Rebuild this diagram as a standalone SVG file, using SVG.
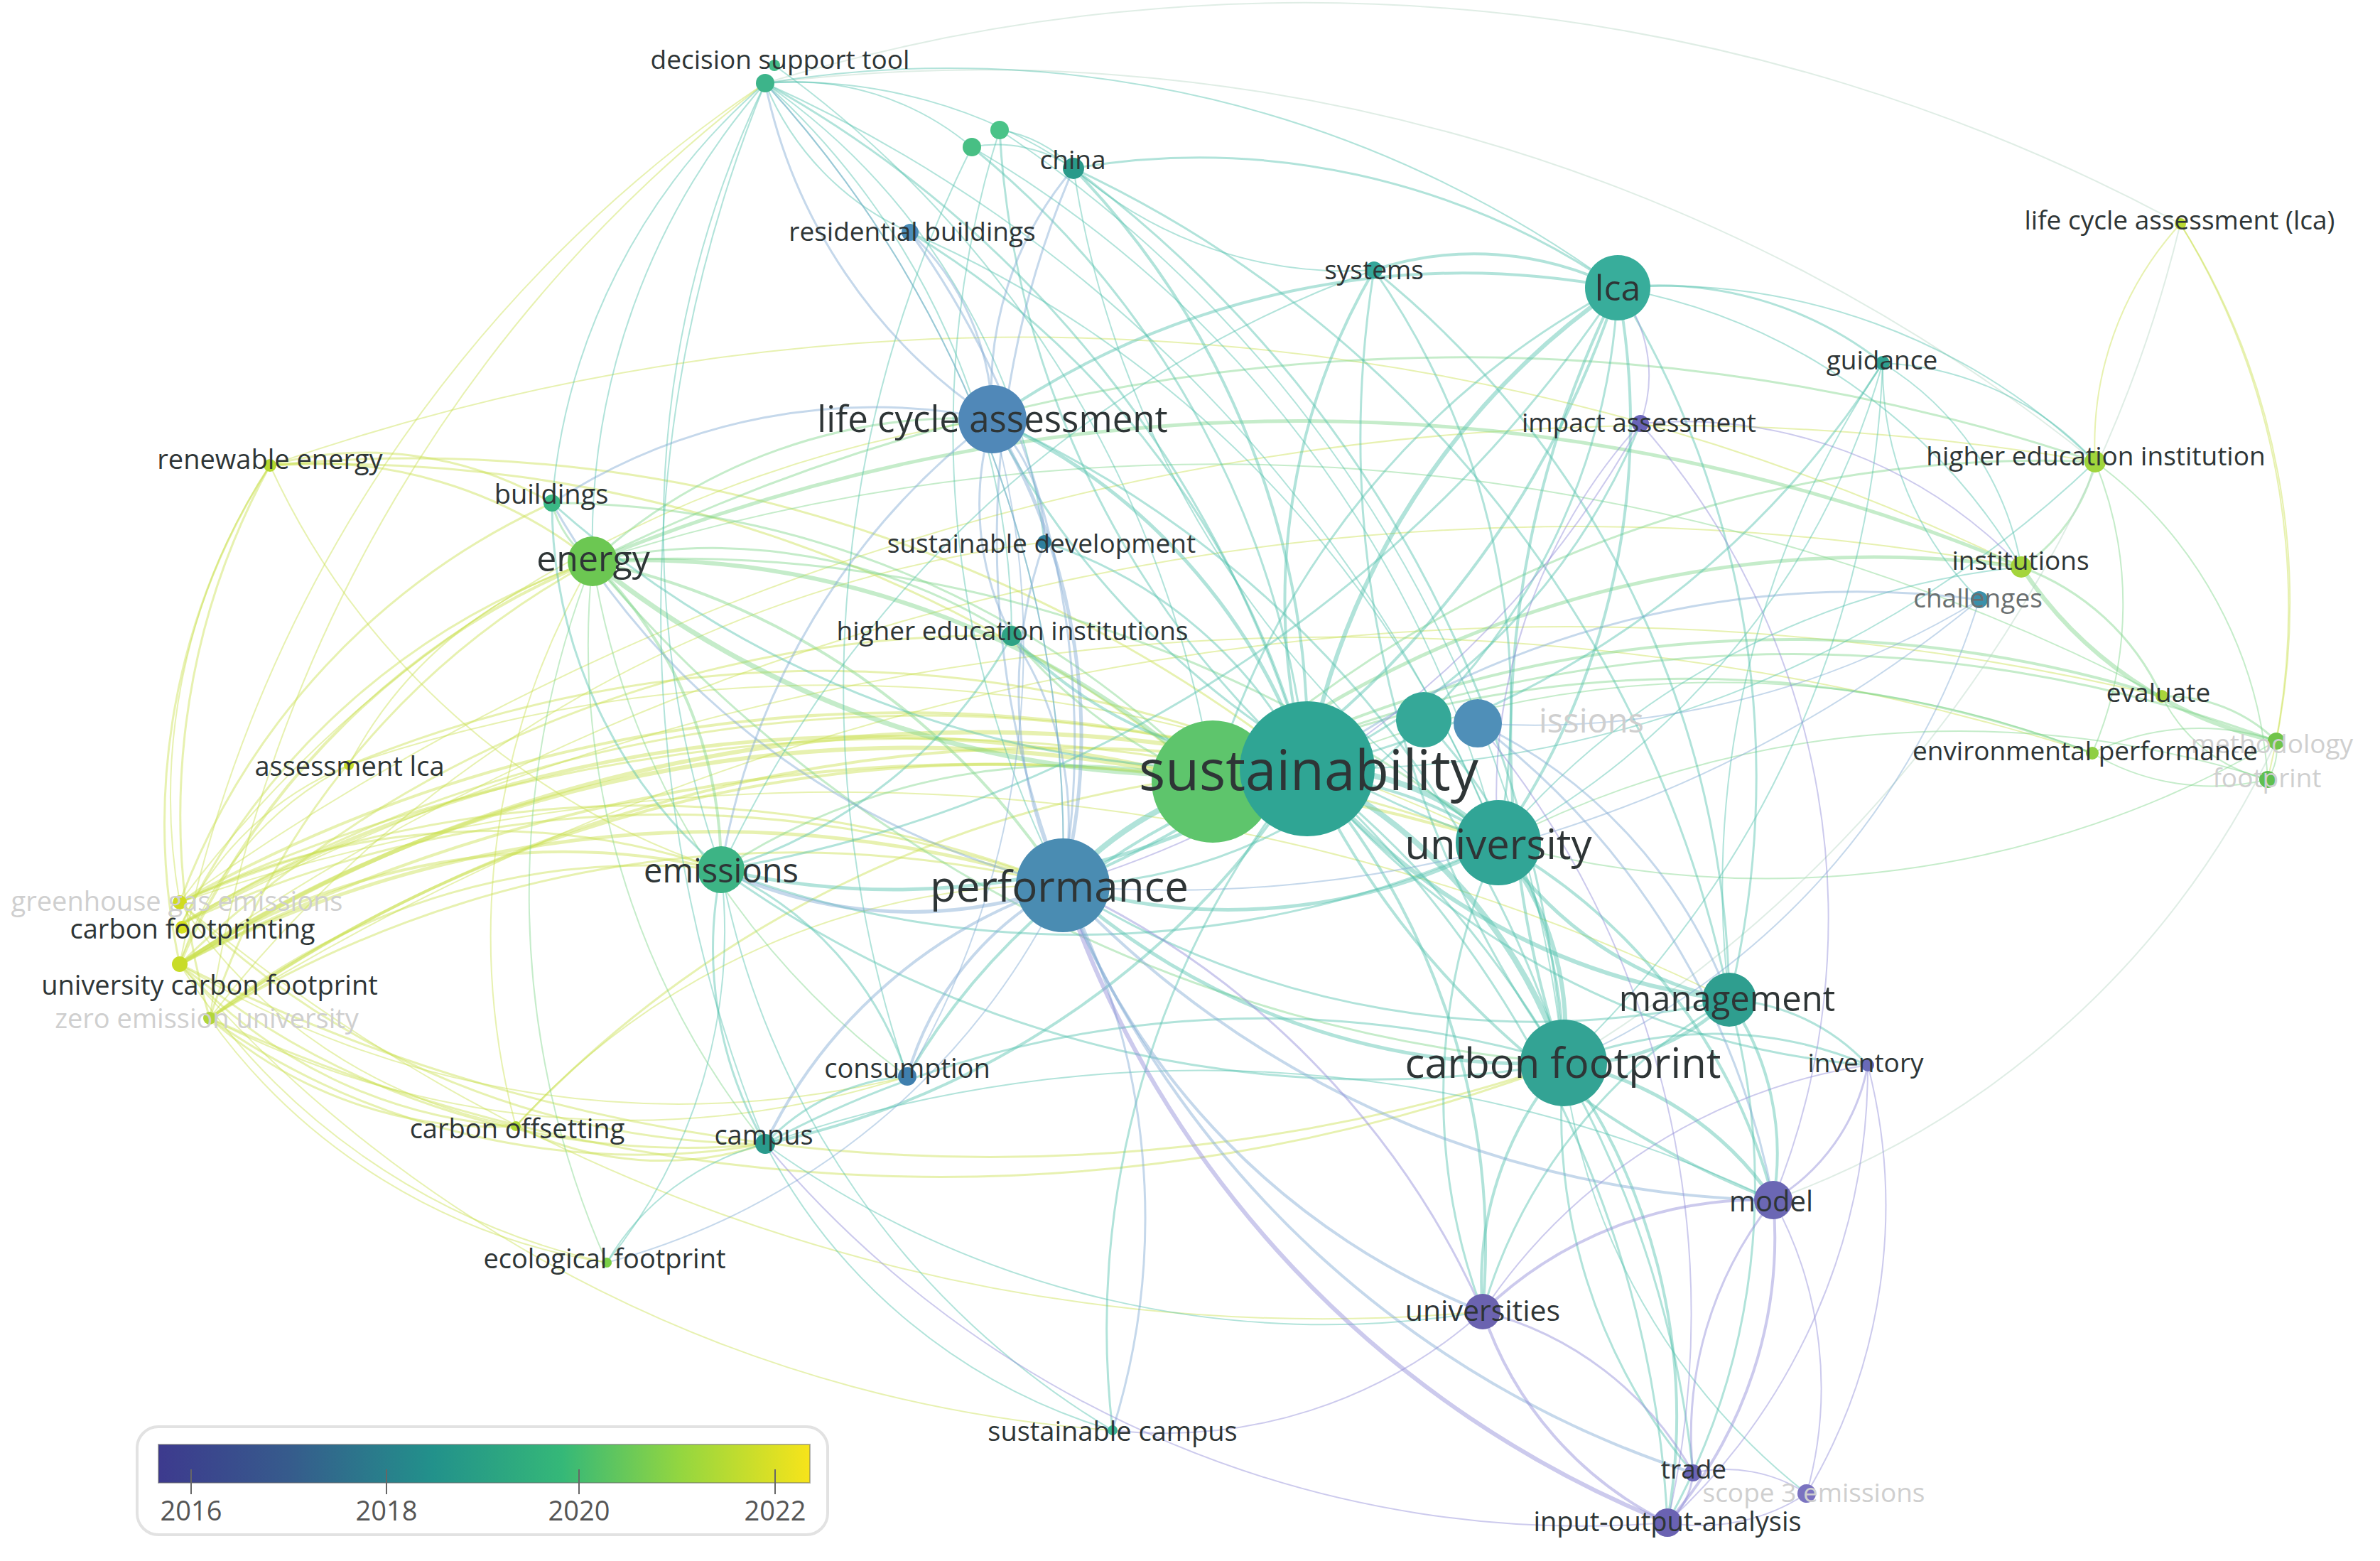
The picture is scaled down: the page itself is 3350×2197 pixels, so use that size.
<svg xmlns="http://www.w3.org/2000/svg" width="3350" height="2197" viewBox="0 0 3350 2197">
<defs>
<style>
.e{fill:none;stroke-linecap:round;stroke-opacity:.45}
.y{stroke:#c9e04f}.g{stroke:#7fd489}.t{stroke:#52c2ad}.b{stroke:#7ea8d2}.p{stroke:#8f8ad8}.l{stroke:#b9d6c6}
.lb{font-family:"Open Sans","Liberation Sans",sans-serif;fill:#2e3536;text-anchor:middle;dominant-baseline:central}
.f{fill:#cfcfcf}
.m{fill:#6a6f70}
.lg{font-family:"Open Sans","Liberation Sans",sans-serif;fill:#555;text-anchor:middle;font-size:38px}
</style>
<linearGradient id="vir" x1="0" y1="0" x2="1" y2="0">
<stop offset="0" stop-color="#3d3a8e"/>
<stop offset="0.2" stop-color="#365b8c"/>
<stop offset="0.42" stop-color="#22918b"/>
<stop offset="0.62" stop-color="#35b878"/>
<stop offset="0.8" stop-color="#93d640"/>
<stop offset="1" stop-color="#f7e41a"/>
</linearGradient>
</defs>
<rect width="3350" height="2197" fill="#ffffff"/>
<g id="connectors">
<g class="e y">
<path stroke-width="6" d="M253 1357A2100 2100 0 0 1 1840 1082"/>
<path stroke-width="6" d="M253 1357A1900 1900 0 0 1 1707 1100"/>
<path stroke-width="4" d="M253 1270A2080 2080 0 0 1 1840 1082"/>
<path stroke-width="5" d="M256 1300A1900 1900 0 0 1 1707 1100"/>
<path stroke-width="4" d="M295 1433A2070 2070 0 0 1 1840 1082"/>
<path stroke-width="4" d="M295 1433A1900 1900 0 0 1 1707 1100"/>
<path stroke-width="3" d="M256 1300A2000 2000 0 0 1 1840 1082"/>
<path stroke-width="5" d="M253 1357A1620 1620 0 0 1 1496 1246"/>
<path stroke-width="3" d="M253 1270A1620 1620 0 0 1 1496 1246"/>
<path stroke-width="3" d="M295 1433A1570 1570 0 0 1 1496 1246"/>
<path stroke-width="3" d="M256 1300A1600 1600 0 0 1 1496 1246"/>
<path stroke-width="4" d="M253 1357A1000 1000 0 0 1 1015 1224"/>
<path stroke-width="3" d="M253 1270A1000 1000 0 0 1 1015 1224"/>
<path stroke-width="3" d="M295 1433A980 980 0 0 1 1015 1224"/>
<path stroke-width="3" d="M256 1300A1000 1000 0 0 1 834 790"/>
<path stroke-width="4" d="M253 1357A1070 1070 0 0 1 834 790"/>
<path stroke-width="3" d="M295 1433A1130 1130 0 0 1 834 790"/>
<path stroke-width="3" d="M253 1357A1120 1120 0 0 0 1077 1610"/>
<path stroke-width="3" d="M253 1270A1180 1180 0 0 0 1077 1610"/>
<path stroke-width="3" d="M295 1433A1050 1050 0 0 0 1077 1610"/>
<path stroke-width="3" d="M295 1433A600 600 0 0 0 726 1585"/>
<path stroke-width="3" d="M253 1357A690 690 0 0 0 726 1585"/>
<path stroke-width="2" d="M253 1270A730 730 0 0 0 726 1585"/>
<path stroke-width="2" d="M295 1433A850 850 0 0 0 854 1777"/>
<path stroke-width="2" d="M253 1357A950 950 0 0 0 854 1777"/>
<path stroke-width="4" d="M253 1357A2420 2420 0 0 1 2109 1186"/>
<path stroke-width="3" d="M253 1270A2410 2410 0 0 1 2109 1186"/>
<path stroke-width="3" d="M295 1433A2480 2480 0 0 0 2201 1496"/>
<path stroke-width="3" d="M253 1357A2530 2530 0 0 0 2201 1496"/>
<path stroke-width="2" d="M253 1270A2840 2840 0 0 1 2434 1407"/>
<path stroke-width="2" d="M253 1357A3450 3450 0 0 1 2845 798"/>
<path stroke-width="2" d="M253 1270A3600 3600 0 0 1 2949 650"/>
<path stroke-width="2" d="M256 1300A3500 3500 0 0 1 2945 1060"/>
<path stroke-width="2" d="M295 1433A3600 3600 0 0 1 3043 980"/>
<path stroke-width="3" d="M253 1357A930 930 0 0 1 380 655"/>
<path stroke-width="3" d="M295 1433A1020 1020 0 0 1 380 655"/>
<path stroke-width="2" d="M253 1270A850 850 0 0 1 380 655"/>
<path stroke-width="2" d="M253 1357A1940 1940 0 0 1 1077 117"/>
<path stroke-width="2" d="M295 1433A2040 2040 0 0 1 1077 117"/>
<path stroke-width="3" d="M253 1270A1000 1000 0 0 1 777 708"/>
<path stroke-width="2" d="M253 1357A480 480 0 0 1 491 1077"/>
<path stroke-width="2" d="M256 1300A440 440 0 0 1 491 1077"/>
<path stroke-width="3" d="M253 1357A1640 1640 0 0 1 1424 895"/>
<path stroke-width="2" d="M253 1270A1730 1730 0 0 1 1397 590"/>
<path stroke-width="2" d="M295 1433A1760 1760 0 0 1 1470 763"/>
<path stroke-width="2" d="M253 1357A1350 1350 0 0 0 1277 1515"/>
<path stroke-width="2" d="M295 1433A1280 1280 0 0 0 1277 1515"/>
<path stroke-width="2" d="M253 1357A1910 1910 0 0 0 1566 2013"/>
<path stroke-width="2" d="M253 1270A2500 2500 0 0 0 2087 1846"/>
<path stroke-width="3" d="M726 1585A1590 1590 0 0 1 1840 1082"/>
<path stroke-width="3" d="M726 1585A460 460 0 0 0 1077 1610"/>
<path stroke-width="2" d="M726 1585A1040 1040 0 0 1 834 790"/>
<path stroke-width="2" d="M726 1585A1020 1020 0 0 1 1496 1246"/>
<path stroke-width="3" d="M491 1077A1750 1750 0 0 1 1840 1082"/>
<path stroke-width="2" d="M491 1077A580 580 0 0 1 834 790"/>
<path stroke-width="2" d="M491 1077A2100 2100 0 0 1 2109 1186"/>
<path stroke-width="3" d="M380 655A630 630 0 0 1 834 790"/>
<path stroke-width="3" d="M380 655A1940 1940 0 0 1 1707 1100"/>
<path stroke-width="3" d="M380 655A520 520 0 0 1 777 708"/>
<path stroke-width="3" d="M380 655A2030 2030 0 0 1 1840 1082"/>
<path stroke-width="2" d="M380 655A3210 3210 0 0 1 2845 798"/>
<path stroke-width="2" d="M380 655A1070 1070 0 0 0 1015 1224"/>
<path stroke-width="2" d="M3069 315A1030 1030 0 0 1 3192 1097"/>
<path stroke-width="2" d="M3069 315A1000 1000 0 0 1 3204 1043"/>
<path stroke-width="2" d="M2949 650A460 460 0 0 1 3069 315"/>
</g>
<g class="e g">
<path stroke-width="7" d="M834 790A1360 1360 0 0 0 1840 1082"/>
<path stroke-width="6" d="M834 790A1210 1210 0 0 1 1707 1100"/>
<path stroke-width="4" d="M834 790A1050 1050 0 0 1 1496 1246"/>
<path stroke-width="4" d="M834 790A610 610 0 0 1 1015 1224"/>
<path stroke-width="3" d="M834 790A140 140 0 0 1 777 708"/>
<path stroke-width="3" d="M834 790A1870 1870 0 0 1 2109 1186"/>
<path stroke-width="3" d="M834 790A1990 1990 0 0 0 2201 1496"/>
<path stroke-width="5" d="M834 790A2610 2610 0 0 1 2845 798"/>
<path stroke-width="3" d="M834 790A2760 2760 0 0 1 2949 650"/>
<path stroke-width="2" d="M834 790A2880 2880 0 0 1 3043 980"/>
<path stroke-width="3" d="M834 790A770 770 0 0 1 1397 590"/>
<path stroke-width="2" d="M834 790A1120 1120 0 0 0 1077 1610"/>
<path stroke-width="2" d="M834 790A1120 1120 0 0 0 1277 1515"/>
<path stroke-width="2" d="M834 790A1280 1280 0 0 0 854 1777"/>
<path stroke-width="3" d="M834 790A780 780 0 0 1 1424 895"/>
<path stroke-width="5" d="M1707 1100A1530 1530 0 0 1 2845 798"/>
<path stroke-width="4" d="M1707 1100A1750 1750 0 0 1 3043 980"/>
<path stroke-width="3" d="M1707 1100A1610 1610 0 0 1 2945 1060"/>
<path stroke-width="3" d="M1707 1100A1950 1950 0 0 1 3204 1043"/>
<path stroke-width="3" d="M1707 1100A1730 1730 0 0 1 2949 650"/>
<path stroke-width="6" d="M2845 798A570 570 0 0 0 3204 1043"/>
<path stroke-width="3" d="M2845 798A350 350 0 0 1 3043 980"/>
<path stroke-width="3" d="M2949 650A240 240 0 0 1 2845 798"/>
<path stroke-width="2" d="M2949 650A530 530 0 0 1 2945 1060"/>
<path stroke-width="2" d="M2949 650A600 600 0 0 1 3192 1097"/>
<path stroke-width="2" d="M2945 1060A340 340 0 0 1 3204 1043"/>
<path stroke-width="2" d="M2945 1060A330 330 0 0 0 3192 1097"/>
<path stroke-width="3" d="M3043 980A220 220 0 0 1 3204 1043"/>
<path stroke-width="2" d="M3043 980A220 220 0 0 0 3192 1097"/>
<path stroke-width="2" d="M3204 1043A80 80 0 0 1 3192 1097"/>
<path stroke-width="2" d="M2945 1060A1440 1440 0 0 0 1840 1082"/>
<path stroke-width="2" d="M3192 1097A1420 1420 0 0 0 2109 1186"/>
<path stroke-width="2" d="M3204 1043A1430 1430 0 0 1 2109 1186"/>
<path stroke-width="3" d="M1707 1100A900 900 0 0 0 1015 1224"/>
<path stroke-width="3" d="M1707 1100A700 700 0 0 1 1424 895"/>
<path stroke-width="3" d="M1707 1100A1300 1300 0 0 0 777 708"/>
</g>
<g class="e l">
<path stroke-width="2" d="M1077 117A2600 2600 0 0 1 3069 315"/>
<path stroke-width="2" d="M1077 117A2500 2500 0 0 1 2949 650"/>
<path stroke-width="2" d="M3204 1043A1250 1250 0 0 1 2496 1689"/>
<path stroke-width="2" d="M3069 315A1900 1900 0 0 1 2201 1496"/>
</g>
<g class="e t">
<path stroke-width="8" d="M1840 1082A380 380 0 0 1 2109 1186"/>
<path stroke-width="8" d="M1840 1082A730 730 0 0 1 2201 1496"/>
<path stroke-width="8" d="M1840 1082A500 500 0 0 0 1496 1246"/>
<path stroke-width="6" d="M1840 1082A1050 1050 0 0 1 2277 405"/>
<path stroke-width="6" d="M1840 1082A910 910 0 0 0 2434 1407"/>
<path stroke-width="5" d="M1840 1082A1080 1080 0 0 1 1015 1224"/>
<path stroke-width="5" d="M1840 1082A830 830 0 0 0 1397 590"/>
<path stroke-width="4" d="M1840 1082A920 920 0 0 1 1934 380"/>
<path stroke-width="4" d="M1840 1082A1170 1170 0 0 0 1511 237"/>
<path stroke-width="3" d="M1840 1082A1600 1600 0 0 0 1077 117"/>
<path stroke-width="3" d="M1840 1082A1300 1300 0 0 0 1368 207"/>
<path stroke-width="3" d="M1840 1082A1300 1300 0 0 1 1407 183"/>
<path stroke-width="3" d="M1840 1082A1240 1240 0 0 0 1281 327"/>
<path stroke-width="4" d="M1840 1082A610 610 0 0 1 1424 895"/>
<path stroke-width="3" d="M1840 1082A630 630 0 0 0 1470 763"/>
<path stroke-width="3" d="M1840 1082A1480 1480 0 0 1 777 708"/>
<path stroke-width="4" d="M1840 1082A1200 1200 0 0 1 1077 1610"/>
<path stroke-width="4" d="M1840 1082A940 940 0 0 0 1277 1515"/>
<path stroke-width="3" d="M1840 1082A1240 1240 0 0 0 1566 2013"/>
<path stroke-width="4" d="M1840 1082A1030 1030 0 0 1 2087 1846"/>
<path stroke-width="4" d="M1840 1082A1200 1200 0 0 0 2496 1689"/>
<path stroke-width="3" d="M1840 1082A1520 1520 0 0 1 2347 2143"/>
<path stroke-width="3" d="M1840 1082A1450 1450 0 0 1 2383 2073"/>
<path stroke-width="3" d="M1840 1082A1130 1130 0 0 0 2629 1499"/>
<path stroke-width="3" d="M1840 1082A1300 1300 0 0 0 2650 511"/>
<path stroke-width="3" d="M1840 1082A910 910 0 0 0 2309 596"/>
<path stroke-width="2" d="M1840 1082A1560 1560 0 0 0 2949 650"/>
<path stroke-width="6" d="M2109 1186A420 420 0 0 1 2201 1496"/>
<path stroke-width="5" d="M2109 1186A510 510 0 0 0 2434 1407"/>
<path stroke-width="4" d="M2109 1186A1030 1030 0 0 0 2277 405"/>
<path stroke-width="5" d="M2109 1186A810 810 0 0 1 1496 1246"/>
<path stroke-width="4" d="M2109 1186A530 530 0 0 0 1707 1100"/>
<path stroke-width="3" d="M2109 1186A1210 1210 0 0 1 1397 590"/>
<path stroke-width="3" d="M2109 1186A1070 1070 0 0 0 1934 380"/>
<path stroke-width="3" d="M2109 1186A1420 1420 0 0 1 1015 1224"/>
<path stroke-width="4" d="M2109 1186A810 810 0 0 1 2496 1689"/>
<path stroke-width="3" d="M2109 1186A860 860 0 0 0 2087 1846"/>
<path stroke-width="2" d="M2109 1186A1400 1400 0 0 1 1511 237"/>
<path stroke-width="2" d="M2109 1186A1100 1100 0 0 0 2650 511"/>
<path stroke-width="2" d="M2109 1186A1110 1110 0 0 1 2845 798"/>
<path stroke-width="5" d="M2201 1496A310 310 0 0 0 2434 1407"/>
<path stroke-width="5" d="M2201 1496A460 460 0 0 1 2496 1689"/>
<path stroke-width="4" d="M2201 1496A470 470 0 0 0 2087 1846"/>
<path stroke-width="4" d="M2201 1496A860 860 0 0 1 2347 2143"/>
<path stroke-width="3" d="M2201 1496A780 780 0 0 0 2383 2073"/>
<path stroke-width="4" d="M2201 1496A1420 1420 0 0 1 2277 405"/>
<path stroke-width="5" d="M2201 1496A990 990 0 0 1 1496 1246"/>
<path stroke-width="3" d="M2201 1496A1570 1570 0 0 1 1015 1224"/>
<path stroke-width="3" d="M2201 1496A1470 1470 0 0 0 1077 1610"/>
<path stroke-width="3" d="M2201 1496A560 560 0 0 1 2629 1499"/>
<path stroke-width="3" d="M2201 1496A1470 1470 0 0 0 1397 590"/>
<path stroke-width="3" d="M2201 1496A1490 1490 0 0 1 1934 380"/>
<path stroke-width="2" d="M2201 1496A910 910 0 0 0 2543 2102"/>
<path stroke-width="4" d="M2277 405A1170 1170 0 0 0 1397 590"/>
<path stroke-width="4" d="M2277 405A450 450 0 0 0 1934 380"/>
<path stroke-width="4" d="M2277 405A1360 1360 0 0 1 1496 1246"/>
<path stroke-width="3" d="M2277 405A1160 1160 0 0 0 1707 1100"/>
<path stroke-width="3" d="M2277 405A1310 1310 0 0 1 2434 1407"/>
<path stroke-width="3" d="M2277 405A510 510 0 0 1 2650 511"/>
<path stroke-width="3" d="M2277 405A1040 1040 0 0 0 1511 237"/>
<path stroke-width="3" d="M2277 405A1900 1900 0 0 1 1015 1224"/>
<path stroke-width="2" d="M2277 405A1590 1590 0 0 0 1077 117"/>
<path stroke-width="2" d="M2277 405A870 870 0 0 1 2949 650"/>
<path stroke-width="2" d="M2277 405A830 830 0 0 1 2845 798"/>
<path stroke-width="4" d="M2434 1407A380 380 0 0 1 2496 1689"/>
<path stroke-width="3" d="M2434 1407A290 290 0 0 1 2629 1499"/>
<path stroke-width="3" d="M2434 1407A740 740 0 0 0 2087 1846"/>
<path stroke-width="3" d="M2434 1407A1240 1240 0 0 1 1496 1246"/>
<path stroke-width="3" d="M2434 1407A970 970 0 0 1 2347 2143"/>
<path stroke-width="3" d="M1015 1224A550 550 0 0 0 1077 1610"/>
<path stroke-width="3" d="M1015 1224A480 480 0 0 1 1277 1515"/>
<path stroke-width="3" d="M1015 1224A680 680 0 0 1 777 708"/>
<path stroke-width="3" d="M1015 1224A700 700 0 0 0 1424 895"/>
<path stroke-width="2" d="M1015 1224A1170 1170 0 0 0 1566 2013"/>
<path stroke-width="2" d="M1015 1224A740 740 0 0 1 854 1777"/>
<path stroke-width="3" d="M1077 1610A300 300 0 0 1 1277 1515"/>
<path stroke-width="2" d="M1077 1610A810 810 0 0 0 1566 2013"/>
<path stroke-width="2" d="M1077 1610A360 360 0 0 0 854 1777"/>
<path stroke-width="2" d="M1077 1610A1350 1350 0 0 0 2087 1846"/>
<path stroke-width="2" d="M1077 1610A1870 1870 0 0 1 2496 1689"/>
<path stroke-width="2" d="M1077 117A700 700 0 0 1 1511 237"/>
<path stroke-width="2" d="M1077 117A390 390 0 0 1 1368 207"/>
<path stroke-width="2" d="M1077 117A390 390 0 0 0 1281 327"/>
<path stroke-width="2" d="M1077 117A870 870 0 0 0 777 708"/>
<path stroke-width="2" d="M1077 117A980 980 0 0 0 834 790"/>
<path stroke-width="2" d="M1077 117A930 930 0 0 1 1470 763"/>
<path stroke-width="2" d="M1077 117A1050 1050 0 0 1 1424 895"/>
<path stroke-width="2" d="M1077 117A1450 1450 0 0 0 1015 1224"/>
<path stroke-width="2" d="M1077 117A1970 1970 0 0 0 1077 1610"/>
<path stroke-width="2" d="M1077 117A1600 1600 0 0 1 1496 1246"/>
<path stroke-width="2" d="M1077 117A2000 2000 0 0 1 2109 1186"/>
<path stroke-width="2" d="M1090 92A1520 1520 0 0 1 1707 1100"/>
<path stroke-width="2" d="M1368 207A190 190 0 0 1 1511 237"/>
<path stroke-width="2" d="M1407 183A180 180 0 0 1 1511 237"/>
<path stroke-width="2" d="M1368 207A1600 1600 0 0 1 2109 1186"/>
<path stroke-width="2" d="M1407 183A1800 1800 0 0 1 2201 1496"/>
<path stroke-width="2" d="M1368 207A1700 1700 0 0 0 1277 1515"/>
<path stroke-width="2" d="M1407 183A1400 1400 0 0 0 1496 1246"/>
<path stroke-width="3" d="M1511 237A1660 1660 0 0 1 2434 1407"/>
<path stroke-width="3" d="M1511 237A1720 1720 0 0 1 2201 1496"/>
<path stroke-width="2" d="M1511 237A580 580 0 0 0 1934 380"/>
<path stroke-width="2" d="M1281 327A1550 1550 0 0 1 2109 1186"/>
<path stroke-width="3" d="M1934 380A1340 1340 0 0 1 2434 1407"/>
<path stroke-width="2" d="M1934 380A1620 1620 0 0 0 1015 1224"/>
<path stroke-width="2" d="M2650 511A420 420 0 0 1 2845 798"/>
<path stroke-width="2" d="M2650 511A460 460 0 0 0 2786 844"/>
<path stroke-width="2" d="M2650 511A430 430 0 0 1 2949 650"/>
<path stroke-width="2" d="M2650 511A1420 1420 0 0 1 2201 1496"/>
<path stroke-width="2" d="M2650 511A1320 1320 0 0 0 2434 1407"/>
<path stroke-width="3" d="M2004 1013A700 700 0 0 1 2201 1496"/>
<path stroke-width="3" d="M2004 1013A900 900 0 0 0 2277 405"/>
<path stroke-width="3" d="M2004 1013A700 700 0 0 1 1496 1246"/>
</g>
<g class="e b">
<path stroke-width="5" d="M1496 1246A860 860 0 0 0 1397 590"/>
<path stroke-width="5" d="M1496 1246A630 630 0 0 1 1015 1224"/>
<path stroke-width="4" d="M1496 1246A440 440 0 0 0 1277 1515"/>
<path stroke-width="4" d="M1496 1246A700 700 0 0 0 1077 1610"/>
<path stroke-width="4" d="M1496 1246A1040 1040 0 0 0 2087 1846"/>
<path stroke-width="4" d="M1496 1246A1400 1400 0 0 0 2496 1689"/>
<path stroke-width="4" d="M1496 1246A1430 1430 0 0 0 2383 2073"/>
<path stroke-width="3" d="M1496 1246A1000 1000 0 0 1 1566 2013"/>
<path stroke-width="2" d="M1496 1246A1000 1000 0 0 1 854 1777"/>
<path stroke-width="3" d="M1496 1246A1230 1230 0 0 0 1281 327"/>
<path stroke-width="3" d="M1496 1246A1320 1320 0 0 1 1511 237"/>
<path stroke-width="2" d="M1496 1246A1600 1600 0 0 0 1077 117"/>
<path stroke-width="3" d="M1496 1246A630 630 0 0 1 1470 763"/>
<path stroke-width="3" d="M1496 1246A470 470 0 0 0 1424 895"/>
<path stroke-width="3" d="M1496 1246A1120 1120 0 0 1 777 708"/>
<path stroke-width="3" d="M1397 590A370 370 0 0 0 1281 327"/>
<path stroke-width="3" d="M1397 590A240 240 0 0 1 1470 763"/>
<path stroke-width="3" d="M1397 590A400 400 0 0 0 1424 895"/>
<path stroke-width="3" d="M1397 590A1000 1000 0 0 0 1015 1224"/>
<path stroke-width="3" d="M1397 590A480 480 0 0 1 1511 237"/>
<path stroke-width="3" d="M1397 590A750 750 0 0 1 1077 117"/>
<path stroke-width="3" d="M1397 590A830 830 0 0 0 777 708"/>
<path stroke-width="2" d="M1397 590A1200 1200 0 0 1 1277 1515"/>
<path stroke-width="3" d="M2786 844A1330 1330 0 0 0 1840 1082"/>
<path stroke-width="2" d="M2786 844A1780 1780 0 0 1 1496 1246"/>
<path stroke-width="2" d="M2786 844A1040 1040 0 0 1 2201 1496"/>
<path stroke-width="3" d="M2080 1018A700 700 0 0 1 2434 1407"/>
<path stroke-width="2" d="M2080 1018A1200 1200 0 0 0 2786 844"/>
<path stroke-width="3" d="M2080 1018A1100 1100 0 0 1 2496 1689"/>
</g>
<g class="e p">
<path stroke-width="6" d="M1496 1246A1480 1480 0 0 0 2347 2143"/>
<path stroke-width="2" d="M2080 1018A1300 1300 0 0 1 2347 2143"/>
<path stroke-width="4" d="M2496 1689A560 560 0 0 0 2087 1846"/>
<path stroke-width="4" d="M2496 1689A610 610 0 0 1 2347 2143"/>
<path stroke-width="3" d="M2496 1689A530 530 0 0 0 2383 2073"/>
<path stroke-width="2" d="M2496 1689A550 550 0 0 1 2543 2102"/>
<path stroke-width="3" d="M2496 1689A280 280 0 0 0 2629 1499"/>
<path stroke-width="4" d="M2087 1846A510 510 0 0 0 2347 2143"/>
<path stroke-width="3" d="M2087 1846A470 470 0 0 1 2383 2073"/>
<path stroke-width="3" d="M2383 2073A100 100 0 0 1 2347 2143"/>
<path stroke-width="2" d="M2383 2073A210 210 0 0 1 2543 2102"/>
<path stroke-width="2" d="M2347 2143A270 270 0 0 0 2543 2102"/>
<path stroke-width="2" d="M2629 1499A870 870 0 0 1 2347 2143"/>
<path stroke-width="2" d="M2629 1499A790 790 0 0 1 2543 2102"/>
<path stroke-width="2" d="M2629 1499A800 800 0 0 0 2087 1846"/>
<path stroke-width="2" d="M2309 596A1050 1050 0 0 1 2496 1689"/>
<path stroke-width="2" d="M2309 596A780 780 0 0 0 2109 1186"/>
<path stroke-width="2" d="M2309 596A1370 1370 0 0 1 1496 1246"/>
<path stroke-width="2" d="M2309 596A660 660 0 0 1 2845 798"/>
<path stroke-width="2" d="M2277 405A195 195 0 0 1 2309 596"/>
<path stroke-width="2" d="M2087 1846A670 670 0 0 1 1566 2013"/>
<path stroke-width="3" d="M1496 1246A1200 1200 0 0 1 2087 1846"/>
<path stroke-width="2" d="M1077 1610A1500 1500 0 0 0 2347 2143"/>
</g>
</g>
<g id="nodes">
<g id="n-sustainability-green"><circle cx="1707" cy="1100" r="86" fill="#5ec56c"/></g>
<g id="n-sustainability"><circle cx="1840" cy="1082" r="95" fill="#2fa594"/></g>
<g id="n-hidden-teal"><circle cx="2004" cy="1013" r="39" fill="#35a898"/></g>
<g id="n-hidden-blue"><circle cx="2080" cy="1018" r="34" fill="#4f8fb8"/></g>
<g id="n-university"><circle cx="2109" cy="1186" r="60" fill="#31a596"/></g>
<g id="n-performance"><circle cx="1496" cy="1246" r="66" fill="#4a8cb2"/></g>
<g id="n-carbon-footprint"><circle cx="2201" cy="1496" r="61" fill="#33a394"/></g>
<g id="n-management"><circle cx="2434" cy="1407" r="38" fill="#2f9e8f"/></g>
<g id="n-lca"><circle cx="2277" cy="405" r="46" fill="#38ad9b"/></g>
<g id="n-life-cycle-assessment"><circle cx="1397" cy="590" r="48" fill="#5088b8"/></g>
<g id="n-energy"><circle cx="834" cy="790" r="35" fill="#6cc752"/></g>
<g id="n-emissions"><circle cx="1015" cy="1224" r="33" fill="#3db485"/></g>
<g id="n-model"><circle cx="2496" cy="1689" r="27" fill="#6b67b4"/></g>
<g id="n-universities"><circle cx="2087" cy="1846" r="25" fill="#6b63b0"/></g>
<g id="n-input-output-analysis"><circle cx="2347" cy="2143" r="20" fill="#6a62b2"/></g>
<g id="n-trade"><circle cx="2383" cy="2073" r="12" fill="#6a64b4"/></g>
<g id="n-scope-3-emissions"><circle cx="2543" cy="2102" r="13" fill="#7a72c0"/></g>
<g id="n-inventory"><circle cx="2629" cy="1499" r="9" fill="#6a6ab8"/></g>
<g id="n-consumption"><circle cx="1277" cy="1515" r="13" fill="#3f7fae"/></g>
<g id="n-campus"><circle cx="1077" cy="1610" r="14" fill="#2a9a8c"/></g>
<g id="n-carbon-offsetting"><circle cx="726" cy="1585" r="7" fill="#b0d838"/></g>
<g id="n-ecological-footprint"><circle cx="854" cy="1777" r="7" fill="#7bcf47"/></g>
<g id="n-sustainable-campus"><circle cx="1566" cy="2013" r="7" fill="#3ab596"/></g>
<g id="n-assessment-lca"><circle cx="491" cy="1077" r="7" fill="#c5dc2a"/></g>
<g id="n-renewable-energy"><circle cx="380" cy="655" r="9" fill="#b5d830"/></g>
<g id="n-buildings"><circle cx="777" cy="708" r="12" fill="#3ab784"/></g>
<g id="n-greenhouse-gas-emissions"><circle cx="253" cy="1270" r="10" fill="#d0dc20"/></g>
<g id="n-carbon-footprinting"><circle cx="256" cy="1305" r="9" fill="#d5e01e"/></g>
<g id="n-university-carbon-footprint"><circle cx="253" cy="1357" r="11" fill="#c8dc28"/></g>
<g id="n-zero-emission-university"><circle cx="295" cy="1433" r="9" fill="#b2d63a"/></g>
<g id="n-sustainable-development"><circle cx="1470" cy="763" r="10" fill="#2f7f9e"/></g>
<g id="n-higher-education-institutions"><circle cx="1424" cy="895" r="14" fill="#2ea385"/></g>
<g id="n-decision-support-tool"><circle cx="1077" cy="117" r="13" fill="#3db48a"/><circle cx="1090" cy="92" r="8" fill="#45ba88"/></g>
<g id="n-small-1"><circle cx="1368" cy="207" r="13" fill="#48bf84"/></g>
<g id="n-small-2"><circle cx="1407" cy="183" r="13" fill="#4ac388"/></g>
<g id="n-china"><circle cx="1511" cy="237" r="15" fill="#2a9a8a"/></g>
<g id="n-residential-buildings"><circle cx="1281" cy="327" r="12" fill="#4a8cb8"/></g>
<g id="n-systems"><circle cx="1934" cy="380" r="12" fill="#33a69a"/></g>
<g id="n-guidance"><circle cx="2650" cy="511" r="10" fill="#2ea090"/></g>
<g id="n-impact-assessment"><circle cx="2309" cy="596" r="12" fill="#6a64b8"/></g>
<g id="n-life-cycle-assessment-lca"><circle cx="3069" cy="315" r="8" fill="#b9d935"/></g>
<g id="n-higher-education-institution"><circle cx="2949" cy="650" r="15" fill="#9fd53c"/></g>
<g id="n-institutions"><circle cx="2845" cy="798" r="15" fill="#a4d53c"/></g>
<g id="n-challenges"><circle cx="2786" cy="844" r="12" fill="#3a90aa"/></g>
<g id="n-evaluate"><circle cx="3043" cy="980" r="9" fill="#a9d43a"/></g>
<g id="n-environmental-performance"><circle cx="2945" cy="1060" r="9" fill="#8fcf43"/></g>
<g id="n-methodology"><circle cx="3204" cy="1043" r="12" fill="#72c44a"/></g>
<g id="n-footprint"><circle cx="3192" cy="1097" r="12" fill="#5fbf50"/></g>
</g>
<g id="labels">
<text class="lb f" x="2240" y="1013" font-size="47">issions</text>
<text class="lb f" x="249" y="1267" font-size="38">greenhouse gas emissions</text>
<text class="lb f" x="291" y="1432" font-size="38">zero emission university</text>
<text class="lb f" x="3198" y="1045" font-size="37">methodology</text>
<text class="lb f" x="3191" y="1093" font-size="37">footprint</text>
<text class="lb f" x="2553" y="2099" font-size="37">scope 3 emissions</text>
<text class="lb" x="1842" y="1082" font-size="78">sustainability</text>
<text class="lb" x="1491" y="1246" font-size="60">performance</text>
<text class="lb" x="2109" y="1186" font-size="58">university</text>
<text class="lb" x="2200" y="1494" font-size="58">carbon footprint</text>
<text class="lb" x="2431" y="1404" font-size="49">management</text>
<text class="lb" x="1397" y="588" font-size="51">life cycle assessment</text>
<text class="lb" x="835" y="785" font-size="50">energy</text>
<text class="lb" x="2277" y="404" font-size="50">lca</text>
<text class="lb" x="1015" y="1224" font-size="47">emissions</text>
<text class="lb" x="2493" y="1689" font-size="40">model</text>
<text class="lb" x="2087" y="1843" font-size="41">universities</text>
<text class="lb" x="2347" y="2140" font-size="38">input-output-analysis</text>
<text class="lb" x="2384" y="2066" font-size="37">trade</text>
<text class="lb" x="2626" y="1494" font-size="37">inventory</text>
<text class="lb" x="1277" y="1502" font-size="38">consumption</text>
<text class="lb" x="1075" y="1596" font-size="38">campus</text>
<text class="lb" x="728" y="1587" font-size="38">carbon offsetting</text>
<text class="lb" x="851" y="1770" font-size="38">ecological footprint</text>
<text class="lb" x="1566" y="2013" font-size="38">sustainable campus</text>
<text class="lb" x="492" y="1077" font-size="38">assessment lca</text>
<text class="lb" x="380" y="645" font-size="38">renewable energy</text>
<text class="lb" x="776" y="694" font-size="38">buildings</text>
<text class="lb" x="271" y="1306" font-size="38">carbon footprinting</text>
<text class="lb" x="295" y="1385" font-size="38">university carbon footprint</text>
<text class="lb" x="1466" y="763" font-size="37">sustainable development</text>
<text class="lb" x="1425" y="886" font-size="37">higher education institutions</text>
<text class="lb" x="1098" y="82" font-size="37">decision support tool</text>
<text class="lb" x="1510" y="223" font-size="37">china</text>
<text class="lb" x="1284" y="324" font-size="37">residential buildings</text>
<text class="lb" x="1934" y="378" font-size="37">systems</text>
<text class="lb" x="2649" y="505" font-size="37">guidance</text>
<text class="lb" x="2307" y="593" font-size="37">impact assessment</text>
<text class="lb" x="3068" y="308" font-size="37">life cycle assessment (lca)</text>
<text class="lb" x="2950" y="640" font-size="37">higher education institution</text>
<text class="lb" x="2844" y="787" font-size="37">institutions</text>
<text class="lb m" x="2784" y="840" font-size="37">challenges</text>
<text class="lb" x="3038" y="973" font-size="37">evaluate</text>
<text class="lb" x="2935" y="1055" font-size="37">environmental performance</text>
</g>
<g id="legend">
<rect x="193" y="2008" width="972" height="152" rx="30" fill="#ffffff" stroke="#e2e2e2" stroke-width="4"/>
<rect x="223" y="2033" width="917" height="54" fill="url(#vir)" stroke="#6d6d6d" stroke-width="2" stroke-opacity=".5"/>
<g stroke="#666" stroke-width="2">
<line x1="269" y1="2068" x2="269" y2="2103"/>
<line x1="544" y1="2068" x2="544" y2="2103"/>
<line x1="815" y1="2068" x2="815" y2="2103"/>
<line x1="1091" y1="2068" x2="1091" y2="2103"/>
</g>
<text class="lg" x="269" y="2140">2016</text>
<text class="lg" x="544" y="2140">2018</text>
<text class="lg" x="815" y="2140">2020</text>
<text class="lg" x="1091" y="2140">2022</text>
</g>
</svg>
